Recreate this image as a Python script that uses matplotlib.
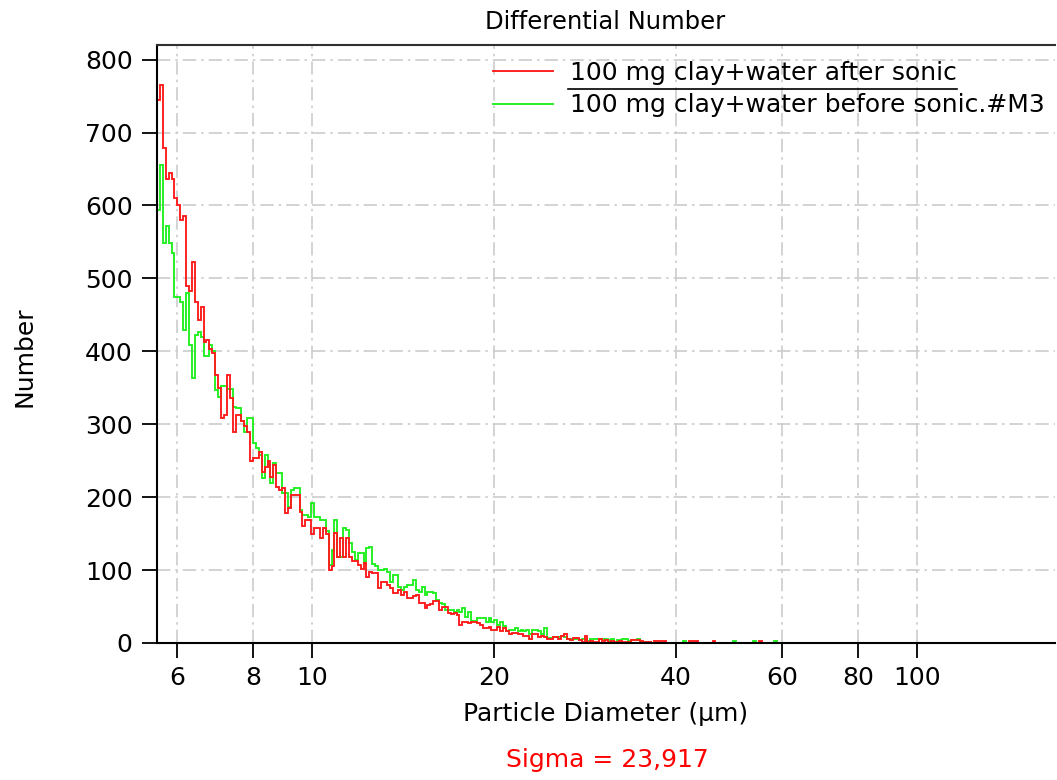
import numpy as np
import matplotlib
matplotlib.use("Agg")
import matplotlib.pyplot as plt
from matplotlib.lines import Line2D
from matplotlib.ticker import NullLocator

# ---- data (counts per channel, log-spaced channels starting at D_START) ----
D_START = 5.55          # first channel lower edge (µm)
CH_PER_DECADE = 208     # channels per decade of diameter

red = [745, 765, 679, 636, 645, 636, 610, 600, 580, 586,
       489, 482, 523, 468, 443, 461, 413, 416, 403, 398,
       368, 350, 309, 312, 368, 336, 290, 313, 313, 304,
       297, 290, 249, 254, 254, 262, 235, 242, 249, 228,
       244, 214, 210, 212, 178, 185, 203, 203, 203, 180,
       160, 169, 169, 150, 158, 158, 144, 158, 150, 100,
       105, 151, 118, 144, 118, 144, 118, 112, 112, 107,
       102, 110, 91, 98, 96, 96, 75, 84, 84, 80,
       75, 69, 69, 72, 66, 70, 62, 62, 64, 66,
       55, 55, 48, 52, 54, 57, 57, 45, 50, 50,
       41, 40, 41, 38, 25, 29, 29, 27, 29, 29,
       27, 24, 21, 21, 22, 18, 18, 22, 16, 21,
       16, 13, 14, 14, 13, 12, 10, 9, 5, 13,
       13, 8, 9, 8, 6, 5, 8, 8, 6, 10,
       13, 6, 4, 7, 7, 4, 2, 10, 2, 3,
       2, 2, 5, 3, 4, 2, 3, 2, 2, 3,
       2, 2, 2, 4, 4, 4, 3, 2, 2, 1,
       0, 3, 3, 3, 3, 0, 0, 0, 0, 0,
       0, 0, 0, 3, 3, 3, 0, 0, 0, 0,
       0, 3, 0, 0, 0, 0, 0, 0, 0, 0,
       0, 0, 0, 0, 0, 0, 0, 3, 0, 0,
       0, 0, 0, 0]

green = [594, 656, 549, 572, 549, 535, 475, 475, 468, 429,
         480, 409, 363, 422, 426, 420, 393, 393, 409, 400,
         347, 338, 352, 352, 348, 348, 324, 322, 322, 305,
         290, 309, 309, 274, 267, 258, 226, 258, 244, 219,
         247, 233, 233, 206, 206, 187, 210, 212, 212, 182,
         176, 176, 173, 192, 173, 173, 169, 169, 153, 107,
         128, 169, 118, 118, 158, 155, 137, 125, 114, 123,
         123, 109, 130, 132, 109, 105, 100, 100, 102, 98,
         84, 93, 93, 77, 72, 77, 80, 80, 86, 72,
         70, 77, 66, 70, 70, 68, 59, 55, 54, 45,
         45, 45, 43, 45, 43, 48, 36, 43, 30, 30,
         34, 34, 34, 29, 34, 29, 31, 25, 29, 23,
         16, 18, 18, 20, 16, 18, 16, 18, 12, 18,
         18, 16, 12, 21, 7, 7, 8, 8, 8, 10,
         8, 6, 6, 6, 6, 4, 5, 5, 3, 5,
         6, 5, 5, 5, 5, 4, 5, 2, 4, 4,
         5, 5, 3, 4, 4, 5, 2, 2, 1, 1,
         0, 0, 0, 0, 0, 0, 0, 0, 0, 0,
         0, 3, 0, 0, 0, 0, 0, 0, 0, 0,
         0, 0, 0, 0, 0, 0, 0, 0, 3, 0,
         0, 0, 0, 0, 0, 3, 0, 0, 0, 0,
         0, 0, 3, 0]

red_label = "100 mg clay+water after sonic"
green_label = "100 mg clay+water before sonic.#M3"
xticks = [6, 8, 10, 20, 40, 60, 80, 100]
xtick_labels = ["6", "8", "10", "20", "40", "60", "80", "100"]
yticks = [0, 100, 200, 300, 400, 500, 600, 700, 800]
title = "Differential Number"
xlabel = "Particle Diameter (µm)"
ylabel = "Number"
sigma_text = "Sigma = 23,917"

# channel edges of the instrument
edges = D_START * 10 ** (np.arange(len(red) + 1) / CH_PER_DECADE)

W, H = 1057, 780
fig = plt.figure(figsize=(W / 100, H / 100), dpi=100)
ax = fig.add_axes([157 / W, 1 - 643 / H, (1055 - 157) / W, (643 - 45) / H])
ax.set_xscale("log")
ax.set_xlim(5.55, 169.3)
ax.set_ylim(0, 820)

g = ax.stairs(green, edges, baseline=None, color="#1ef01e", lw=1.35,
              label=green_label, zorder=2)
r = ax.stairs(red, edges, baseline=None, color="#ff1a1a", lw=1.35,
              label=red_label, zorder=2.1)

ax.set_xticks(xticks)
ax.set_xticklabels(xtick_labels)
ax.xaxis.set_minor_locator(NullLocator())
ax.set_yticks(yticks)
ax.tick_params(axis="both", direction="out", length=10.5, width=1.3,
               labelsize=18, colors="black")
ax.tick_params(axis="x", pad=6)
ax.tick_params(axis="y", pad=7)

ax.grid(True, color="#cccccc", lw=1.2, linestyle=(0, (8, 3, 1.5, 3)))
ax.set_axisbelow(True)

ax.spines["right"].set_visible(False)
for s in ("left", "bottom"):
    ax.spines[s].set_linewidth(1.5)
    ax.spines[s].set_color("black")
ax.spines["top"].set_linewidth(1.5)
ax.spines["top"].set_color("#303030")

leg = ax.legend(handles=[r, g], loc="upper left",
                bbox_to_anchor=(493 / W, 1 - 61 / H),
                bbox_transform=fig.transFigure, frameon=False, fontsize=18,
                handlelength=2.4, handletextpad=0.68, borderpad=0,
                borderaxespad=0, labelspacing=0.33)

fig.add_artist(Line2D([568 / W, 957 / W], [1 - 89 / H, 1 - 89 / H],
                      color="black", lw=1.2))

fig.text(605 / W, 1 - 22 / H, title, ha="center", va="center", fontsize=17.5)
fig.text(606 / W, 1 - 714 / H, xlabel, ha="center", va="center", fontsize=18)
fig.text(25 / W, 1 - 357 / H, ylabel, ha="center", va="center",
         rotation=90, fontsize=18)
fig.text(607 / W, 1 - 760 / H, sigma_text, ha="center", va="center",
         fontsize=18, color="red")

fig.savefig("out.png", dpi=100)
